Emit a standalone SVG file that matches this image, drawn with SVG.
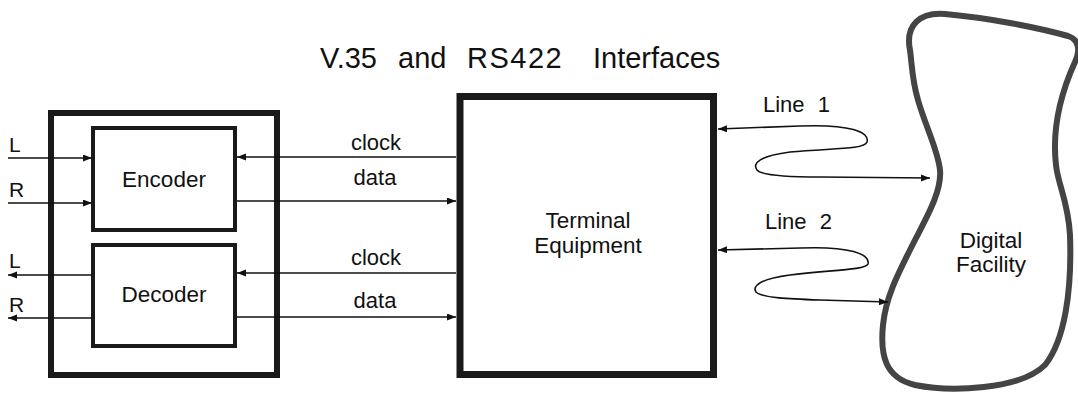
<svg xmlns="http://www.w3.org/2000/svg" width="1078" height="397" viewBox="0 0 1078 397">
<style>
text{font-family:"Liberation Sans",Arial,sans-serif;fill:#111}
.lbl{font-size:22.5px}
.sig{font-size:22px}
.io{font-size:21px}
.title{font-size:29px}
.box{fill:#fff;stroke:#1a1a1a}
.wire{fill:none;stroke:#111;stroke-width:1.6}
.blob{fill:#fff;stroke:#444;stroke-width:6;stroke-linejoin:round}
</style>
<defs>
<marker id="ah" markerUnits="userSpaceOnUse" markerWidth="10" markerHeight="8" refX="9" refY="3.5" orient="auto-start-reverse">
<path d="M0,0 L9,3.5 L0,7 z" fill="#111"/>
</marker>
</defs>
<rect width="1078" height="397" fill="#fff"/>
<text class="title" y="68"><tspan x="320">V.35</tspan><tspan x="398">and</tspan><tspan x="467" letter-spacing="1.5">RS422</tspan><tspan x="593">Interfaces</tspan></text>
<g id="codec">
<rect class="box" x="51" y="113" width="226" height="262" stroke-width="6"/>
</g>
<g id="encoder">
<rect class="box" x="93" y="128" width="142" height="102" stroke-width="4"/>
<text class="lbl" x="164" y="187" text-anchor="middle">Encoder</text>
</g>
<g id="decoder">
<rect class="box" x="93" y="245" width="142" height="101" stroke-width="4"/>
<text class="lbl" x="164" y="302" text-anchor="middle">Decoder</text>
</g>
<g id="terminal">
<rect class="box" x="460" y="96.5" width="253.5" height="278" stroke-width="7"/>
<text class="lbl" x="588" y="228" text-anchor="middle">Terminal</text>
<text class="lbl" x="588" y="253" text-anchor="middle">Equipment</text>
</g>
<g id="facility">
<path class="blob" d="M910,50 C905,25 920,12 945,14 C990,18 1040,28 1068,36 C1080,40 1080,52 1075,62 C1060,95 1052,130 1056,165 C1058,185 1068,200 1070,235 C1072,290 1065,340 1045,365 C1020,390 950,392 915,385 C885,378 880,355 883,325 C886,295 900,270 915,240 C928,215 942,190 940,170 C938,150 925,125 918,100 C912,80 912,65 910,50 Z"/>
<text class="lbl" x="991" y="248" text-anchor="middle">Digital</text>
<text class="lbl" x="991" y="272" text-anchor="middle">Facility</text>
</g>
<g id="connectors">
<line class="wire" x1="8" y1="158" x2="92" y2="158" marker-end="url(#ah)"/>
<line class="wire" x1="8" y1="203" x2="92" y2="203" marker-end="url(#ah)"/>
<line class="wire" x1="92" y1="275" x2="8" y2="275" marker-end="url(#ah)"/>
<line class="wire" x1="92" y1="318" x2="8" y2="318" marker-end="url(#ah)"/>
<line class="wire" x1="456" y1="157" x2="237" y2="157" marker-end="url(#ah)"/>
<line class="wire" x1="237" y1="201" x2="456" y2="201" marker-end="url(#ah)"/>
<line class="wire" x1="456" y1="273" x2="237" y2="273" marker-end="url(#ah)"/>
<line class="wire" x1="237" y1="317" x2="456" y2="317" marker-end="url(#ah)"/>
<path class="wire" d="M718,129 L800,126 C850,124 870,132 867,142 C864,150 830,148 790,152 C760,156 752,163 757,170 C762,176 790,177 820,177 L930,178" marker-start="url(#ah)" marker-end="url(#ah)"/>
<path class="wire" d="M718,250 L800,248 C850,246 870,254 868,264 C866,270 830,270 790,275 C760,279 752,286 756,292 C762,298 790,299 820,300 L888,302" marker-start="url(#ah)" marker-end="url(#ah)"/>
<text class="io" x="9" y="152">L</text>
<text class="io" x="9" y="197">R</text>
<text class="io" x="9" y="268">L</text>
<text class="io" x="9" y="312">R</text>
<text class="sig" x="376" y="150" text-anchor="middle">clock</text>
<text class="sig" x="375" y="185" text-anchor="middle">data</text>
<text class="sig" x="376" y="265" text-anchor="middle">clock</text>
<text class="sig" x="375" y="308" text-anchor="middle">data</text>
<text class="sig" x="763" y="112" word-spacing="7">Line 1</text>
<text class="sig" x="765" y="229" word-spacing="7">Line 2</text>
</g>
</svg>
